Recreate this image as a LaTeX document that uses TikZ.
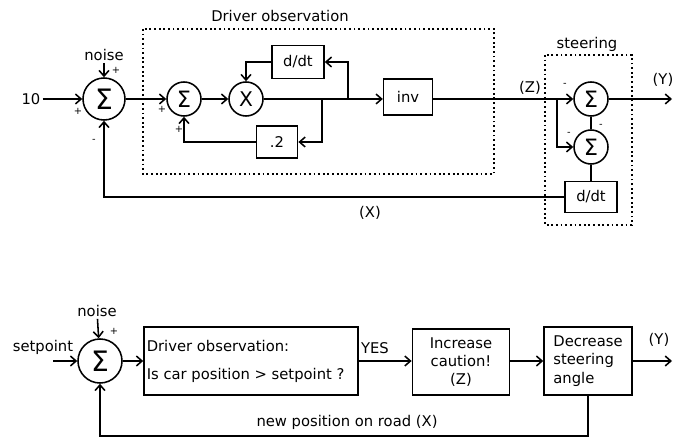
\documentclass[tikz,border=0pt]{standalone}
\usepackage{fontspec}
\setmainfont{DejaVu Sans}
\usetikzlibrary{arrows.meta}
\begin{document}
\begin{tikzpicture}[x=0.025cm,y=-0.025cm,line width=1.1pt,>={Straight Barb[length=4pt,width=7pt]}]
\tikzstyle{sumbig} = [circle,draw,minimum size=1.05cm,inner sep=0pt,font=\fontsize{20}{20}\selectfont] %sommateur
\tikzstyle{sumsmall} = [circle,draw,minimum size=0.85cm,inner sep=0pt,font=\fontsize{16}{16}\selectfont]
\tikzstyle{bloc} = [draw,rectangle,inner sep=2pt]
\tikzstyle{sign} = [font=\scriptsize,inner sep=0pt]
\tikzstyle{txt} = [font=\fontsize{10.5}{12}\selectfont,inner sep=1pt]
\tikzstyle{pointille} = [line width=1.3pt,dash pattern=on 1.3pt off 2pt]
\useasboundingbox (0,0) rectangle (684,438);

%schema du haut : blocs
\draw(104,99)node[sumbig](s1){Σ};
\draw(31,99)node[txt](t0){10};
\draw(104,55)node[txt](n1){noise};
\draw(184,99)node[sumsmall](s2){Σ};
\draw(246,99)node[sumsmall,font=\Large](mul){X};
\draw(298,62)node[bloc,txt,minimum width=1.3cm,minimum height=0.82cm](dd1){d/dt};
\draw(277,142)node[bloc,txt,minimum width=1.03cm,minimum height=0.8cm](gain){.2};
\draw(408,97)node[bloc,txt,minimum width=1.22cm,minimum height=0.9cm](inv){inv};
\draw(591,99)node[sumsmall](sA){Σ};
\draw(591,147)node[sumsmall](sB){Σ};
\draw(591,197)node[bloc,txt,minimum width=1.3cm,minimum height=0.78cm](dd2){d/dt};
\coordinate (j1) at (322,99);
\coordinate (j2) at (348,99);
\coordinate (j3) at (557,99);
\coordinate (yout) at (672,99);

%cadres pointilles
\draw[pointille] (143,29) rectangle (494,174);
\draw(280,16)node[txt](obs){Driver observation};
\draw[pointille] (545,55) rectangle (632,225);
\draw(587,44)node[txt](steer){steering};

%liaisons
\draw[->] (t0) -- (s1);
\draw[->] (n1) -- (s1);
\draw[->] (s1) -- (s2);
\draw[->] (s2) -- (mul);
\draw (mul) -- (j2);
\draw[->] (j2) |- (dd1.east);
\draw[->] (dd1.west) -| (mul.north);
\draw[->] (j1) |- (gain.east);
\draw[->] (gain.west) -| (s2.south);
\draw[->] (j2) -- (inv.west |- j2);
\draw (inv.east |- j3) -- (j3);
\draw[->] (j3) -- (sA);
\draw[->] (j3) |- (sB);
\draw (sA) -- (sB);
\draw (sB) -- (dd2);
\draw[->] (sA) -- (yout);
\draw[->] (dd2.west) -| (s1.south);

%signes et etiquettes
\draw(116,70)node[sign]{+};
\draw(78,111)node[sign]{+};
\draw(94,141)node[sign]{-};
\draw(162,109)node[sign]{+};
\draw(179,129)node[sign]{+};
\draw(565,85)node[sign]{-};
\draw(569,134)node[sign]{-};
\draw(601,126)node[sign]{-};
\draw(530,88)node[txt](z){(Z)};
\draw(663,80)node[txt](y1){(Y)};
\draw(370,213)node[txt](x1){(X)};

%schema du bas
\draw(100,361)node[sumbig,minimum size=1.1cm](sC){Σ};
\draw(43,347)node[txt](sp){setpoint};
\coordinate (spin) at (53,361);
\draw(97,311)node[txt](n2){noise};
\draw(114,331)node[sign]{+};
\draw(251,361)node[bloc,minimum width=5.35cm,minimum height=1.7cm,inner sep=4pt](drv){};
\draw(drv.west)node[txt,right,align=left,xshift=1pt](drvtxt){Driver observation:\\[8pt]Is car position > setpoint ?};
\draw(461,362)node[bloc,txt,minimum width=2.43cm,minimum height=1.65cm,align=center](inc){Increase\\[1pt]caution!\\[1pt](Z)};
\draw(588,361)node[bloc,txt,minimum width=2.2cm,minimum height=1.7cm,align=left](dec){Decrease\\[1pt]steering\\[1pt]angle};
\draw(375,348)node[txt](yes){YES};
\draw(659,340)node[txt](y2){(Y)};
\coordinate (yout2) at (672,361);
\draw(347,422)node[txt](fb){new position on road (X)};

\draw[->] (spin) -- (sC);
\draw[->] (n2) -- (sC);
\draw[->] (sC) -- (drv);
\draw[->] (drv) -- (inc.west |- drv);
\draw[->] (inc.east |- dec) -- (dec);
\draw[->] (dec) -- (yout2);
\draw[->] (dec.south) -- ++(0,40) -| (sC.south);
\end{tikzpicture}
\end{document}
